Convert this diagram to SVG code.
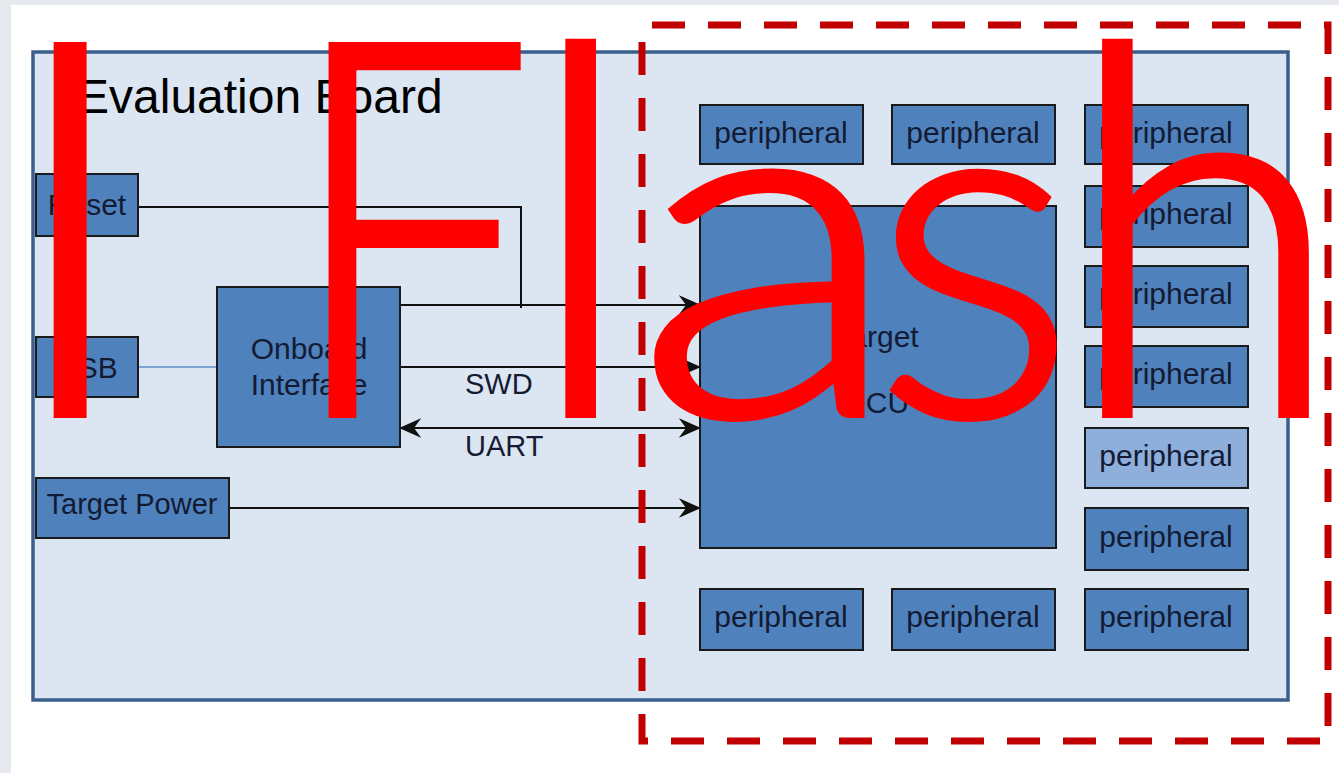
<svg xmlns="http://www.w3.org/2000/svg" width="1339" height="773" viewBox="0 0 1339 773">
<defs>
<style>
.lbl{font-family:"Liberation Sans",Arial,sans-serif;font-size:30px;fill:#131b33;text-anchor:middle}
.box{fill:#4f81bd;stroke:#1a1a1a;stroke-width:2}
.lite{fill:#8eaedb;stroke:#1a1a1a;stroke-width:2}
.wire{stroke:#111;stroke-width:2;fill:none}
</style>
<marker id="ah" viewBox="-20 -10 22 20" refX="0" refY="0" markerWidth="22" markerHeight="20" markerUnits="userSpaceOnUse" orient="auto-start-reverse">
<path d="M0,0 L-18,-8 L-12,0 L-18,8 Z" fill="#111" stroke="#111" stroke-width="1.5" stroke-linejoin="miter"/>
</marker>
</defs>
<rect x="0" y="0" width="1339" height="773" fill="#e6e9ee"/>
<rect x="11" y="5" width="1328" height="768" fill="#ffffff"/>
<g id="board">
<rect x="33" y="52" width="1255" height="648" fill="#dce6f2" stroke="#3b5f8d" stroke-width="3.5"/>
<text x="77" y="113" font-family="Liberation Sans,Arial,sans-serif" font-size="48" fill="#000">Evaluation Board</text>
</g>
<g id="connectors">
<polyline class="wire" points="138,207 521,207 521,308"/>
<line class="wire" x1="400" y1="305" x2="699" y2="305" marker-end="url(#ah)"/>
<line class="wire" x1="400" y1="367" x2="699" y2="367" marker-end="url(#ah)"/>
<line class="wire" x1="401" y1="428" x2="699" y2="428" marker-start="url(#ah)" marker-end="url(#ah)"/>
<line class="wire" x1="229" y1="508" x2="699" y2="508" marker-end="url(#ah)"/>
<line x1="138" y1="367" x2="218" y2="367" stroke="#5b8cc8" stroke-width="1.5"/>
<text x="465" y="394" font-family="Liberation Sans,Arial,sans-serif" font-size="29" fill="#161a33">SWD</text>
<text x="465" y="456" font-family="Liberation Sans,Arial,sans-serif" font-size="29" fill="#161a33">UART</text>
</g>
<g id="reset"><rect class="box" x="36" y="174" width="102" height="62"/><text class="lbl" x="87" y="215">Reset</text></g>
<g id="usb"><rect class="box" x="36" y="337" width="102" height="60"/><text class="lbl" x="87" y="378">USB</text></g>
<g id="onboard"><rect class="box" x="217" y="287" width="183" height="160"/><text class="lbl" x="309" y="359">Onboard</text><text class="lbl" x="309" y="395">Interface</text></g>
<g id="power"><rect class="box" x="36" y="478" width="193" height="60"/><text class="lbl" x="132" y="514" style="font-size:29px">Target Power</text></g>
<g id="mcu"><rect class="box" x="700" y="206" width="356" height="342"/><text class="lbl" x="877" y="347">Target</text><text class="lbl" x="875" y="413">MCU</text></g>
<g id="p1"><rect class="box" x="700" y="105" width="163" height="59"/><text class="lbl" x="781" y="143">peripheral</text></g>
<g id="p2"><rect class="box" x="892" y="105" width="163" height="59"/><text class="lbl" x="973" y="143">peripheral</text></g>
<g id="p3"><rect class="box" x="1085" y="105" width="163" height="59"/><text class="lbl" x="1166" y="143">peripheral</text></g>
<g id="p4"><rect class="box" x="1085" y="186" width="163" height="61"/><text class="lbl" x="1166" y="224">peripheral</text></g>
<g id="p5"><rect class="box" x="1085" y="266" width="163" height="61"/><text class="lbl" x="1166" y="304">peripheral</text></g>
<g id="p6"><rect class="box" x="1085" y="346" width="163" height="61"/><text class="lbl" x="1166" y="384">peripheral</text></g>
<g id="p7"><rect class="lite" x="1085" y="428" width="163" height="60"/><text class="lbl" x="1166" y="466">peripheral</text></g>
<g id="p8"><rect class="box" x="1085" y="508" width="163" height="62"/><text class="lbl" x="1166" y="547">peripheral</text></g>
<g id="p9"><rect class="box" x="700" y="589" width="163" height="61"/><text class="lbl" x="781" y="627">peripheral</text></g>
<g id="p10"><rect class="box" x="892" y="589" width="163" height="61"/><text class="lbl" x="973" y="627">peripheral</text></g>
<g id="p11"><rect class="box" x="1085" y="589" width="163" height="61"/><text class="lbl" x="1166" y="627">peripheral</text></g>
<g id="boundary">
<path d="M642,25 H1328 V741 H642 Z" fill="none" stroke="#c00000" stroke-width="7" stroke-dasharray="33 23" stroke-dashoffset="46"/>
</g>
<text y="415" font-family="Lato,Liberation Sans,sans-serif" font-weight="300" font-size="523" fill="#ff0000" stroke="#ff0000" stroke-width="6"><tspan x="2">I </tspan><tspan x="285" textLength="249" lengthAdjust="spacingAndGlyphs">F</tspan><tspan x="524" font-size="513">l</tspan><tspan x="634" font-size="481" textLength="270" lengthAdjust="spacingAndGlyphs">a</tspan><tspan x="872" font-size="481">s</tspan><tspan x="1063" font-size="513">h</tspan></text>
</svg>
